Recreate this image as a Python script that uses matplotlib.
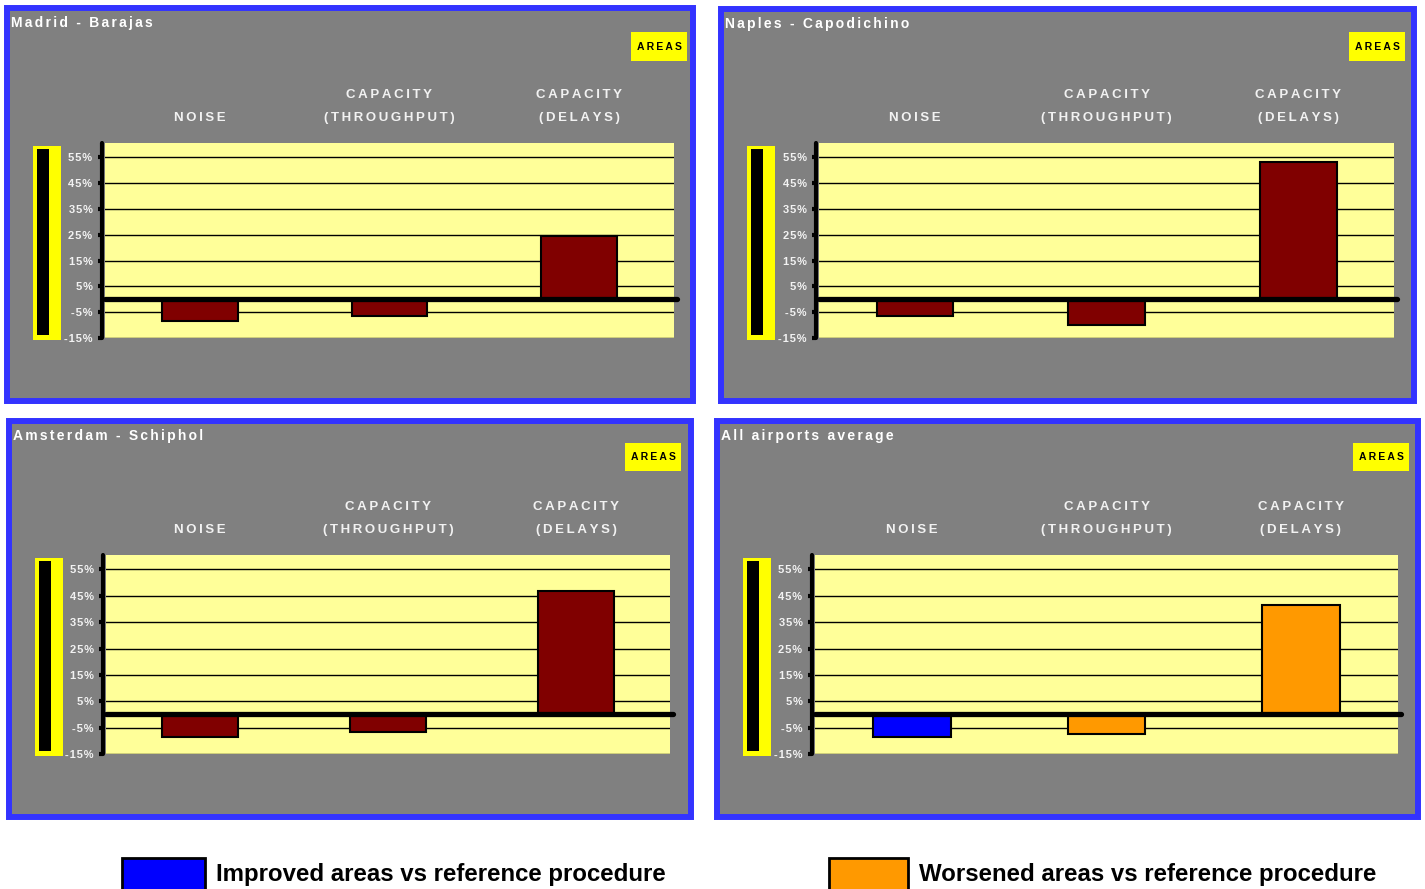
import matplotlib
matplotlib.use("Agg")
import matplotlib.pyplot as plt
from matplotlib.patches import Rectangle

plt.rcParams['font.family'] = ['Liberation Sans', 'DejaVu Sans']
plt.rcParams['font.weight'] = 'bold'

# data (percent change vs reference)
categories = ['NOISE', 'CAPACITY\n(THROUGHPUT)', 'CAPACITY\n(DELAYS)']
titles = ['Madrid - Barajas', 'Naples - Capodichino',
          'Amsterdam - Schiphol', 'All airports average']
madrid = [-8.5, -6.5, 24.6]
naples = [-6.5, -10.0, 53.0]
amsterdam = [-8.4, -6.5, 46.9]
average = [-8.4, -7.6, 41.6]
ytick_vals = [-15, -5, 5, 15, 25, 35, 45, 55]
legend_labels = ['Improved areas vs reference procedure',
                 'Worsened areas vs reference procedure']

DARKRED = '#800000'
BLUE = '#0000ff'
ORANGE = '#ff9900'
GREY = '#808080'
PANEL_EDGE = '#3333ff'
PLOT_BG = '#ffff99'
TXT = '#f2f2f2'

W, H = 1425, 889
fig = plt.figure(figsize=(W / 100, H / 100), dpi=100, facecolor='white')


def box(x0, y0, x1, y1):
    # pixel box (y from top) -> figure fraction rect
    return [x0 / W, 1 - y1 / H, (x1 - x0) / W, (y1 - y0) / H]


def spread(s, gap='\u200a'):
    return '\n'.join(gap.join(line) for line in s.split('\n'))


def add_rect(x0, y0, x1, y1, **kw):
    l, b, w, h = box(x0, y0, x1, y1)
    r = Rectangle((l, b), w, h, transform=fig.transFigure, **kw)
    fig.patches.append(r)
    return r


panels = [
    # title, values, colors, outer box, plot box, indicator x, areas box
    (titles[0], madrid, [DARKRED] * 3, (7, 8, 693, 401), (105, 143, 674, 338), 33, (631, 32, 687, 61)),
    (titles[1], naples, [DARKRED] * 3, (721, 9, 1414, 401), (819, 143, 1394, 338), 747, (1349, 32, 1405, 61)),
    (titles[2], amsterdam, [DARKRED] * 3, (9, 421, 691, 817), (106, 555, 670, 754), 35, (625, 443, 681, 471)),
    (titles[3], average, [BLUE, ORANGE, ORANGE], (717, 421, 1418, 817), (815, 555, 1398, 754), 743, (1353, 443, 1409, 471)),
]

for title, vals, cols, outer, inner, ind_x, areas in panels:
    add_rect(*outer, facecolor=GREY, edgecolor=PANEL_EDGE, linewidth=4.3, zorder=-5)
    fig.text((outer[0] + 4) / W, 1 - (outer[1] + 15) / H, spread(title, '\u2006'),
             color='white', fontsize=10, fontweight='bold', va='center', ha='left')

    # AREAS label
    add_rect(*areas, facecolor='yellow', edgecolor='none', zorder=-4)
    fig.text((areas[0] + areas[2]) / 2 / W, 1 - (areas[1] + areas[3]) / 2 / H,
             spread('AREAS', '\u2009'), color='black', fontsize=7.5,
             fontweight='bold', ha='center', va='center')

    # yellow/black indicator at left
    top, bot = inner[1] + 3, inner[3] + 2
    add_rect(ind_x, top, ind_x + 28, bot, facecolor='yellow', edgecolor='none', zorder=-4)
    add_rect(ind_x + 4, top + 3, ind_x + 16, bot - 5, facecolor='black', edgecolor='none', zorder=-3)

    ax = fig.add_axes(box(*inner), zorder=1)
    ax.set_facecolor(PLOT_BG)
    x = range(len(vals))
    ax.bar(x, vals, width=0.4, color=cols, edgecolor='black', linewidth=1.5, zorder=2)
    ax.set_xlim(-0.5, 2.5)
    ax.set_ylim(-15, 60.5)
    ax.set_yticks(ytick_vals)
    ax.set_yticklabels([spread('%d%%' % v) for v in ytick_vals])
    ax.set_xticks([])
    ax.set_axisbelow(True)
    ax.grid(axis='y', color='black', linewidth=1.0)
    ax.get_ygridlines()[0].set_visible(False)
    ax.axhline(0, xmin=0, xmax=1.005, color='black', linewidth=3.8,
               solid_capstyle='round', clip_on=False, zorder=3)
    for side in ['top', 'right', 'bottom']:
        ax.spines[side].set_visible(False)
    ax.spines['left'].set_position(('outward', 2))
    ax.spines['left'].set_linewidth(3)
    ax.spines['left'].set_capstyle('round')
    ax.tick_params(axis='y', length=3, width=3, color='black', labelcolor=TXT,
                   labelsize=8, pad=4)
    for i, cat in enumerate(categories):
        ax.annotate(spread(cat, '\u2009'), xy=(i, 1), xycoords=('data', 'axes fraction'),
                    xytext=(0, 14), textcoords='offset points', ha='center', va='bottom',
                    color=TXT, fontsize=9.5, fontweight='bold', linespacing=2.2,
                    annotation_clip=False)

# bottom legend
for (x0, x1, tx), c, lab in zip([(122, 205, 216), (829, 908, 919)], [BLUE, ORANGE], legend_labels):
    add_rect(x0, 858, x1, 892, facecolor=c, edgecolor='black', linewidth=2)
    fig.text(tx / W, 1 - 874 / H, lab, fontsize=17.3, fontweight='bold',
             color='black', va='center', ha='left')

fig.savefig('out.png', dpi=100, facecolor='white')
